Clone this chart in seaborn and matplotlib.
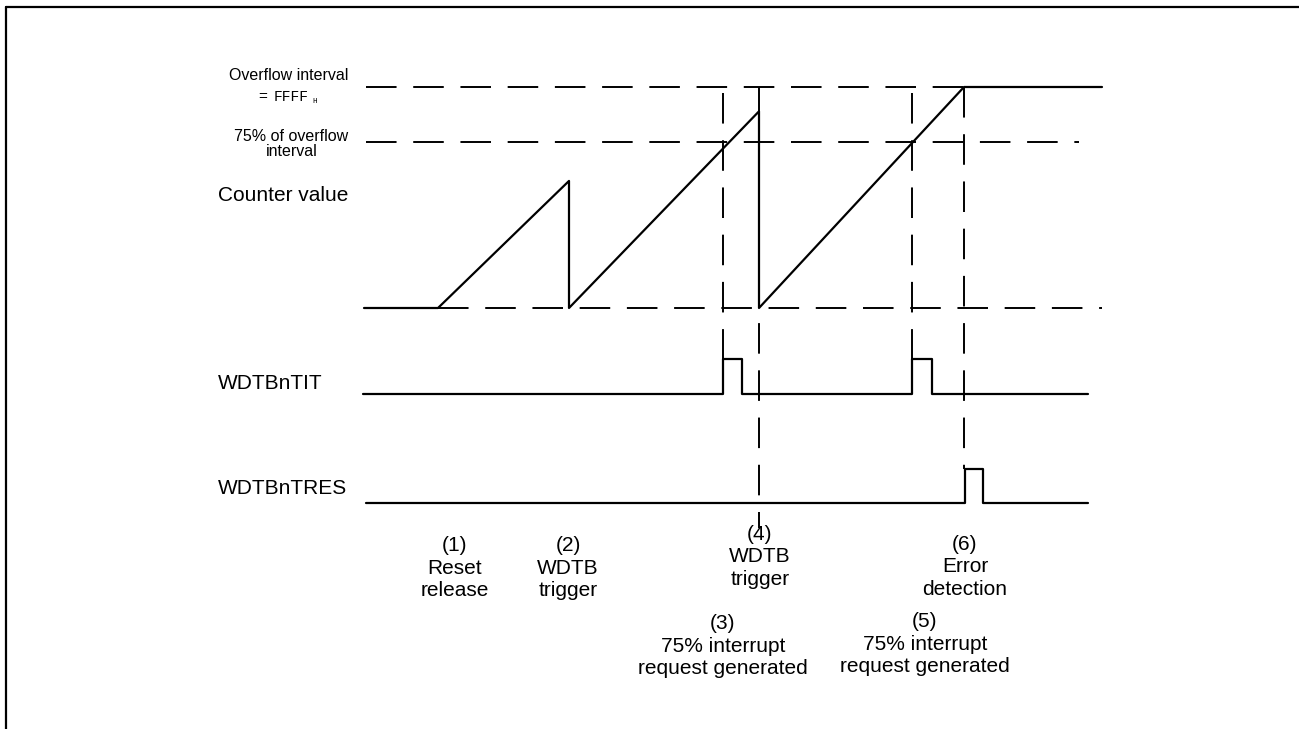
import matplotlib
matplotlib.use("Agg")
import matplotlib.pyplot as plt
from matplotlib.lines import Line2D
import seaborn as sns
import pandas as pd

# ---------------- data ----------------
# time axis: arbitrary units (horizontal position of each event)
counter_t = [364, 438, 569, 569, 759, 759, 964, 1102]
counter_v = [0, 0, 57.5, 0, 89, 0, 100, 100]          # % of overflow interval

tit_t = [363, 723, 723, 742, 742, 912, 912, 932, 932, 1088]
tit_v = [0, 0, 1, 1, 0, 0, 1, 1, 0, 0]

tres_t = [366, 965, 965, 983, 983, 1088]
tres_v = [0, 0, 1, 1, 0, 0]

# reference levels of the counter (% of overflow interval) and their extent
level_v = [100, 75, 0]
level_t0 = [366, 366, 438]
level_t1 = [964, 1079, 1102]

# vertical guide lines at event times
guide_t = [723, 759, 912, 964]

signal_names = ["Counter value", "WDTBnTIT", "WDTBnTRES"]

event_labels = ["(1)\nReset\nrelease", "(2)\nWDTB\ntrigger",
                "(3)\n75% interrupt\nrequest generated", "(4)\nWDTB\ntrigger",
                "(5)\n75% interrupt\nrequest generated", "(6)\nError\ndetection"]
event_label_t = [455, 568, 723, 760, 925, 965]

# ---------------- layout ----------------
W, H = 1299, 729
CNT_BASE, CNT_SCALE = 308, 2.21
TIT_BASE, TIT_SCALE = 394, 35
TRES_BASE, TRES_SCALE = 503, 34

def cy(v):
    return CNT_BASE - v * CNT_SCALE

sns.set_style("white")
plt.rcParams["font.family"] = ["Liberation Sans", "DejaVu Sans"]
plt.rcParams["text.color"] = "black"
plt.rcParams["lines.scale_dashes"] = False

fig = plt.figure(figsize=(W / 100, H / 100), dpi=100)
ax = fig.add_axes([0, 0, 1, 1])

LW = 1.6
DASH = (0, (22, 12))

# dashed reference levels
for v, t0, t1 in zip(level_v, level_t0, level_t1):
    ax.plot([t0, t1], [cy(v), cy(v)], color="black", lw=1.4, linestyle=DASH)

# dashed vertical guides
guide_top = [93, 87, 93, 87]
guide_bot = [TIT_BASE - TIT_SCALE, 528, TIT_BASE - TIT_SCALE, TRES_BASE - TRES_SCALE]
for t, y0, y1 in zip(guide_t, guide_top, guide_bot):
    ax.plot([t, t], [y0, y1], color="black", lw=1.4, linestyle=DASH)

# waveforms
df_c = pd.DataFrame({"t": counter_t, "y": [cy(v) for v in counter_v]})
df_i = pd.DataFrame({"t": tit_t, "y": [TIT_BASE - v * TIT_SCALE for v in tit_v]})
df_r = pd.DataFrame({"t": tres_t, "y": [TRES_BASE - v * TRES_SCALE for v in tres_v]})
for d in (df_c, df_i, df_r):
    sns.lineplot(data=d, x="t", y="y", ax=ax, sort=False, estimator=None,
                 color="black", lw=LW)
ax.set_xlim(0, W)
ax.set_ylim(H, 0)
ax.axis("off")

# signal names
for name, y in zip(signal_names, [195, 383, 488]):
    ax.text(218, y, name, fontsize=15, ha="left", va="center")

# level labels
ax.text(289, 75, "Overflow interval", fontsize=11.5, ha="center", va="center")
ax.text(263, 97, "=", fontsize=11, ha="center", va="center")
ax.text(291, 97, "FFFF", fontsize=10.5, ha="center", va="center",
        family=["Liberation Mono", "DejaVu Sans Mono"])
ax.text(315, 101, "H", fontsize=5.5, ha="center", va="center",
        family=["Liberation Mono", "DejaVu Sans Mono"])
ax.text(291, 136, "75% of overflow", fontsize=11.5, ha="center", va="center")
ax.text(292, 151, "interval", fontsize=11.5, ha="center", va="center")

# event labels
event_label_y = [568, 568, 646, 557, 644, 567]
for s, t, y in zip(event_labels, event_label_t, event_label_y):
    ax.text(t, y, s, fontsize=15, ha="center", va="center", linespacing=1.25)

# frame (left and top borders)
fig.add_artist(Line2D([6 / W, 6 / W], [0, 1 - 7 / H], transform=fig.transFigure,
                      color="black", lw=1.6))
fig.add_artist(Line2D([6 / W, 1], [1 - 7 / H, 1 - 7 / H], transform=fig.transFigure,
                      color="black", lw=1.6))

fig.savefig("out.png", dpi=100, facecolor="white")
